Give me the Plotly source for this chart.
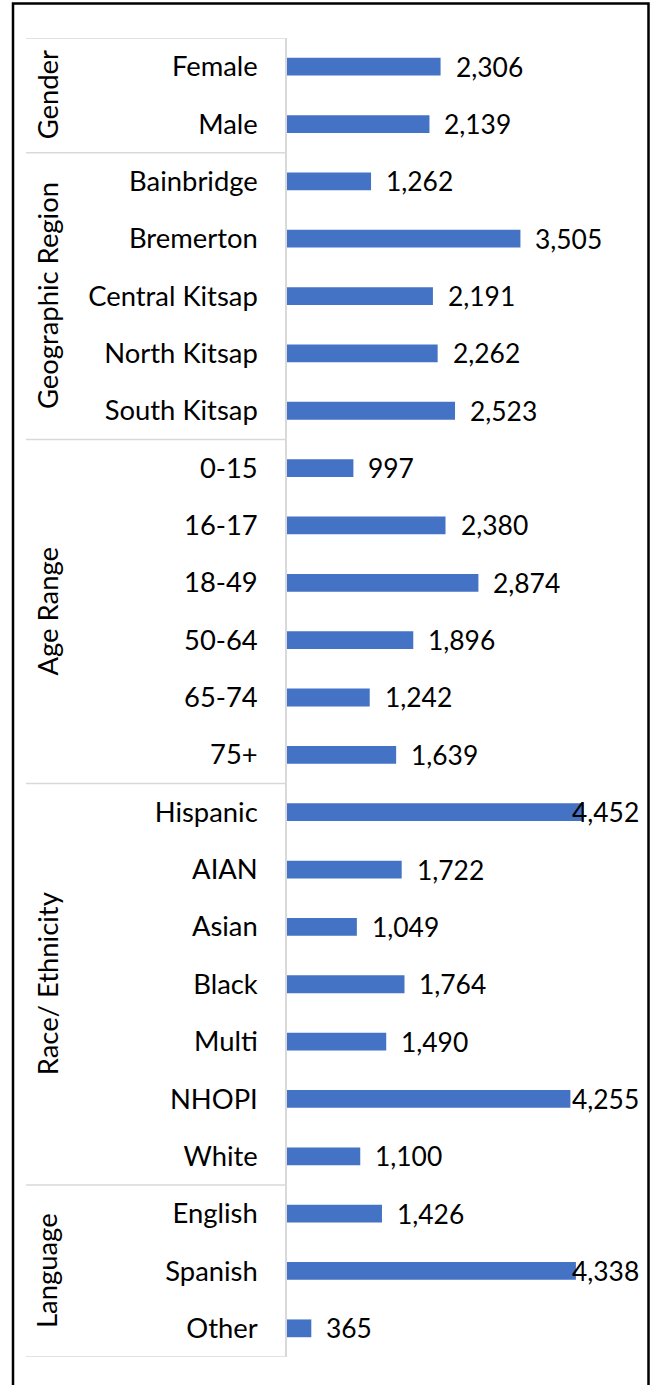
import plotly.graph_objects as go

# Category groups and their values
group_names = ["Gender", "Geographic Region", "Age Range", "Race/ Ethnicity", "Language"]

gender_labels = ["Female", "Male"]
gender_values = [2306, 2139]

region_labels = ["Bainbridge", "Bremerton", "Central Kitsap", "North Kitsap", "South Kitsap"]
region_values = [1262, 3505, 2191, 2262, 2523]

age_labels = ["0-15", "16-17", "18-49", "50-64", "65-74", "75+"]
age_values = [997, 2380, 2874, 1896, 1242, 1639]

race_labels = ["Hispanic", "AIAN", "Asian", "Black", "Multi", "NHOPI", "White"]
race_values = [4452, 1722, 1049, 1764, 1490, 4255, 1100]

language_labels = ["English", "Spanish", "Other"]
language_values = [1426, 4338, 365]

group_labels = [gender_labels, region_labels, age_labels, race_labels, language_labels]
group_values = [gender_values, region_values, age_values, race_values, language_values]

labels = [lab for g in group_labels for lab in g]
values = [v for g in group_values for v in g]
idx = list(range(len(labels)))

W, H = 651, 1385
FONT = "Lato"
FS_CAT = 27.4
FS_VAL = 26.4
BAR = "#4472C4"
GRID = "#d9d9d9"

# pixel layout of the plotting area
AX_LEFT, AX_RIGHT = 287, 620
TOP, BOTTOM = 38, 1357
XMAX = 5000

def px(x):
    return x / W

def py(y):
    return 1 - y / H

fig = go.Figure()
fig.add_trace(go.Bar(
    x=values, y=idx, orientation="h",
    marker=dict(color=BAR, line=dict(width=0)),
    width=0.31, hoverinfo="skip",
))

annotations = []
scale = (AX_RIGHT - AX_LEFT) / XMAX
label_room = 641
for i, v in zip(idx, values):
    txt = f"{v:,}"
    est_w = 13.8 * len(txt.replace(",", "")) + 6
    if AX_LEFT + v * scale + 13 + est_w > label_room:
        annotations.append(dict(
            x=px(label_room), xref="paper", y=i, yref="y", text=txt,
            xanchor="right", yanchor="middle", showarrow=False,
            font=dict(family=FONT, size=FS_VAL, color="black"),
        ))
    else:
        annotations.append(dict(
            x=v, xref="x", y=i, yref="y", text=txt, xshift=13,
            xanchor="left", yanchor="middle", showarrow=False,
            font=dict(family=FONT, size=FS_VAL, color="black"),
        ))

# group titles, rotated and centred on each group's span
shapes = []
start = 0
bounds = [-0.5]
for name, labs in zip(group_names, group_labels):
    end = start + len(labs)
    mid = (start + end - 1) / 2
    annotations.append(dict(
        x=px(47), xref="paper", y=mid, yref="y", text=name, textangle=-90,
        xanchor="center", yanchor="middle", showarrow=False,
        font=dict(family=FONT, size=FS_CAT, color="black"),
    ))
    bounds.append(end - 0.5)
    start = end

for b in bounds:
    shapes.append(dict(
        type="line", xref="paper", yref="y", x0=px(26), x1=px(AX_LEFT), y0=b, y1=b,
        line=dict(color=GRID, width=1.5),
    ))

# chart frame
shapes.append(dict(
    type="rect", xref="paper", yref="paper",
    x0=px(13), x1=px(648.5), y0=-0.02, y1=py(3.5),
    line=dict(color="black", width=2.5), fillcolor="rgba(0,0,0,0)",
))

fig.update_layout(
    width=W, height=H,
    margin=dict(l=0, r=0, t=0, b=0),
    paper_bgcolor="white", plot_bgcolor="white",
    showlegend=False,
    annotations=annotations,
    shapes=shapes,
    xaxis=dict(
        domain=[px(AX_LEFT), px(AX_RIGHT)], range=[0, XMAX],
        showgrid=False, zeroline=False, showticklabels=False, showline=False, ticks="",
    ),
    yaxis=dict(
        domain=[py(BOTTOM), py(TOP)], range=[len(labels) - 0.5, -0.5],
        tickmode="array", tickvals=idx, ticktext=labels,
        showgrid=False, zeroline=False, ticks="",
        showline=True, linecolor=GRID, linewidth=1.5,
        ticklabelstandoff=22,
        tickfont=dict(family=FONT, size=FS_CAT, color="black"),
    ),
)

fig.write_html("out.html")
